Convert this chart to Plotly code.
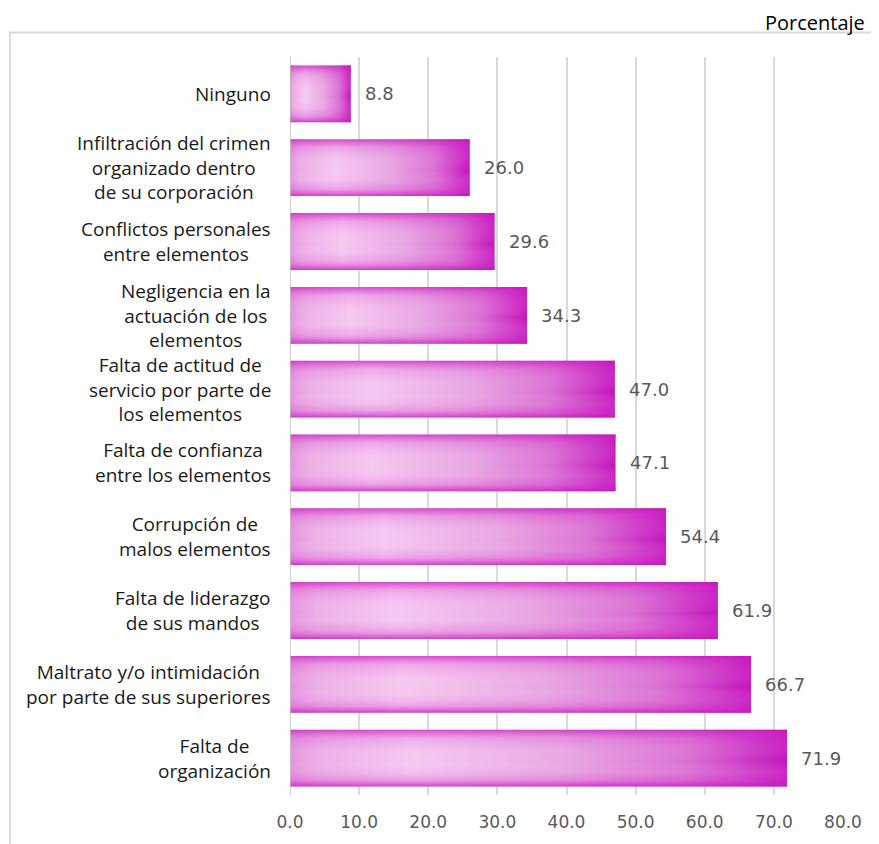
import plotly.graph_objects as go

categories = [
    "Ninguno",
    "Infiltración del crimen<br>organizado dentro<br>de su corporación",
    "Conflictos personales<br>entre elementos",
    "Negligencia en la<br>actuación de los<br>elementos",
    "Falta de actitud de<br>servicio por parte de<br>los elementos",
    "Falta de confianza<br>entre los elementos",
    "Corrupción de<br>malos elementos",
    "Falta de liderazgo<br>de sus mandos",
    "Maltrato y/o intimidación<br>por parte de sus superiores",
    "Falta de<br>organización",
]
values = [8.8, 26.0, 29.6, 34.3, 47.0, 47.1, 54.4, 61.9, 66.7, 71.9]
x_ticks = [0, 10, 20, 30, 40, 50, 60, 70, 80]
x_tick_labels = ["0.0", "10.0", "20.0", "30.0", "40.0", "50.0", "60.0", "70.0", "80.0"]

BAR_HALF = 0.385
FONT = "Open Sans"

h_scale = [[0, "#e592de"], [0.06, "#ecaee6"], [0.25, "#f6c8f1"], [0.55, "#e8a6e2"],
           [0.8, "#da6ed3"], [1, "#c512bf"]]
v_scale = [[0, "rgba(200,20,190,0.75)"], [0.12, "rgba(215,70,205,0.3)"],
           [0.45, "rgba(255,255,255,0)"], [0.85, "rgba(215,70,205,0.25)"],
           [1, "rgba(200,20,190,0.7)"]]

fig = go.Figure()
for i, (c, v) in enumerate(zip(categories, values)):
    xs = [0, v, v, 0, 0]
    ys = [i - BAR_HALF, i - BAR_HALF, i + BAR_HALF, i + BAR_HALF, i - BAR_HALF]
    fig.add_trace(go.Scatter(x=xs, y=ys, mode="lines", fill="toself",
                             line=dict(width=0, color="rgba(0,0,0,0)"),
                             fillgradient=dict(type="horizontal", colorscale=h_scale),
                             hoverinfo="skip", showlegend=False))
    fig.add_trace(go.Scatter(x=xs, y=ys, mode="lines", fill="toself",
                             line=dict(width=0, color="rgba(0,0,0,0)"),
                             fillgradient=dict(type="vertical", colorscale=v_scale),
                             hoverinfo="skip", showlegend=False))

annotations = []
for i, v in enumerate(values):
    annotations.append(dict(x=v, y=i, xref="x", yref="y", text=f"{v:.1f}", showarrow=False,
                            xanchor="left", yanchor="middle", xshift=12,
                            font=dict(family="DejaVu Sans", size=18, color="#595959")))
for i, c in enumerate(categories):
    annotations.append(dict(x=0, y=i, xref="x", yref="y", text=c, showarrow=False,
                            xanchor="right", yanchor="middle", align="center",
                            xshift=-17, font=dict(family=FONT, size=19, color="#1a1a1a")))
annotations.append(dict(x=1.0442, y=1.0, xref="paper", yref="paper", text="Porcentaje",
                        showarrow=False, xanchor="right", yanchor="middle", yshift=35,
                        font=dict(family=FONT, size=20, color="#000000")))

fig.update_layout(
    width=871, height=836,
    margin=dict(l=281.5, r=35.5, t=48.5, b=47),
    paper_bgcolor="white", plot_bgcolor="white",
    annotations=annotations,
    shapes=[dict(type="rect", xref="paper", yref="paper", x0=-0.5063, x1=1.2,
                 y0=-0.1, y1=1.0331, line=dict(color="#d9d9d9", width=2),
                 fillcolor="rgba(0,0,0,0)", layer="below")],
    xaxis=dict(range=[0, 80], tickvals=x_ticks, ticktext=x_tick_labels,
               showgrid=True, gridcolor="#d9d9d9", gridwidth=1.5, zeroline=False,
               showline=False, ticks="", ticklabelstandoff=15,
               tickfont=dict(family="DejaVu Sans", size=17, color="#595959")),
    yaxis=dict(range=[len(categories) - 0.5, -0.5], showticklabels=False,
               showgrid=False, zeroline=False, showline=False, ticks=""),
)
fig.add_shape(type="line", xref="x", yref="paper", x0=0, x1=0, y0=0, y1=1,
              line=dict(color="#bfbfbf", width=1.5))

fig.write_html("out.html")
